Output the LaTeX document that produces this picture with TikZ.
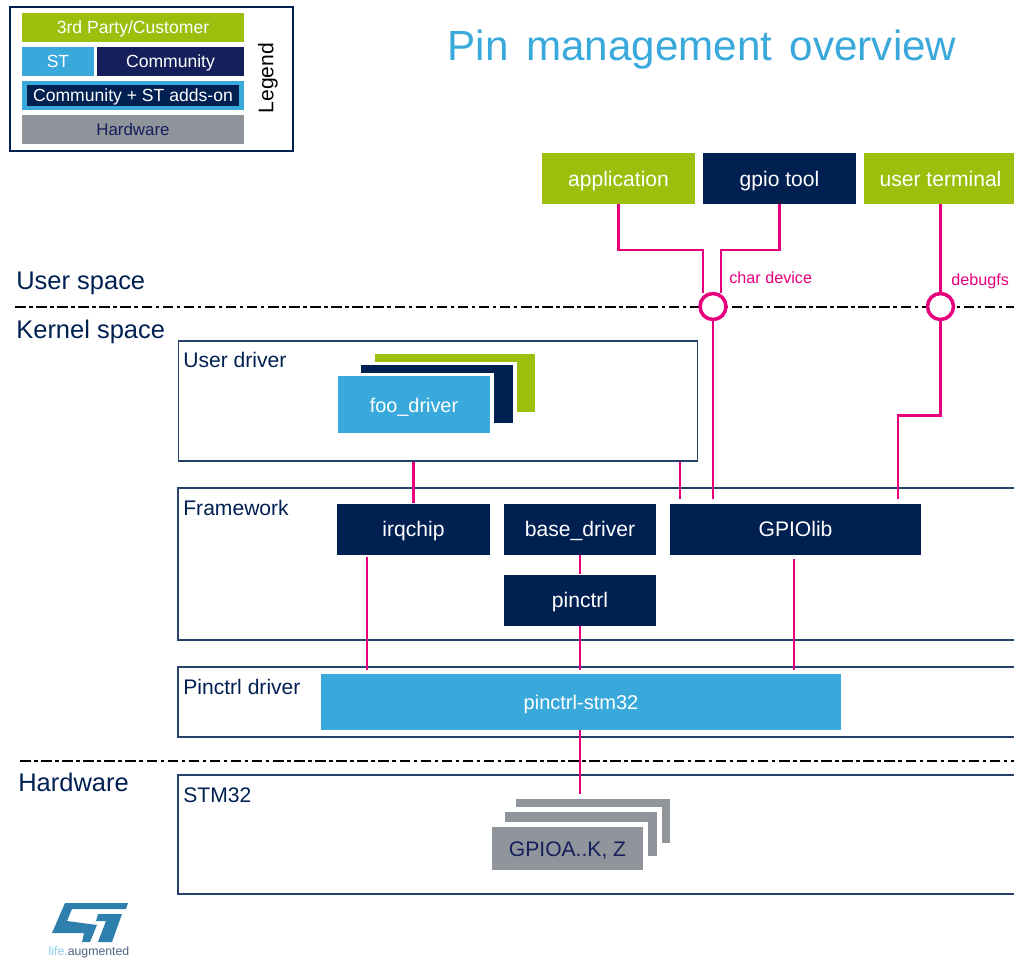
\documentclass[tikz,border=0pt]{standalone}
\usepackage{fontspec}
\setmainfont{Liberation Sans}
\definecolor{stgreen}{HTML}{9BBF0C}
\definecolor{stblue}{HTML}{39A9DC}
\definecolor{stnavy}{HTML}{002052}
\definecolor{stindigo}{HTML}{141F5C}
\definecolor{stgrey}{HTML}{8F959B}
\definecolor{stpink}{HTML}{E6007E}
\definecolor{stlogo}{HTML}{2F7FAE}
\tikzset{
  px/.style={x=0.02cm,y=-0.02cm},
  block/.style={anchor=center,inner sep=0pt,text height=8.6pt,text depth=0pt,font=\fontsize{12}{14}\selectfont,text=white},
  legendblock/.style={block,text height=7pt,font=\fontsize{10}{12}\selectfont},
  link/.style={stpink,line width=1.6pt},
  layer/.style={draw=stnavy!85,line width=0.6pt},
  layertext/.style={anchor=west,inner sep=0pt,text height=8.6pt,text depth=0pt,text=stnavy,font=\fontsize{12}{14}\selectfont},
  spacetext/.style={anchor=west,inner sep=0pt,text height=10pt,text depth=0pt,text=stnavy,font=\fontsize{14.5}{16}\selectfont},
  mount/.style={circle,draw=stpink,fill=white,line width=2pt,minimum size=0.52cm,inner sep=0pt},
  mounttext/.style={anchor=west,inner sep=0pt,text height=6.6pt,text depth=0pt,text=stpink,font=\fontsize{9.2}{11}\selectfont},
  splitline/.style={dash pattern=on 6pt off 2pt on 2pt off 2pt,line width=0.6pt}
}
\begin{document}
\begin{tikzpicture}[px]
\useasboundingbox (0,0) rectangle (1014,957);
\clip (0,0) rectangle (1014,957);

%legend
\draw[stnavy,line width=1.5pt,fill=white] (10,7) rectangle (293,151);
\node[legendblock,fill=stgreen,minimum width=4.44cm,minimum height=0.58cm] (legend3rd) at (133,27.5) {3rd Party/Customer};
\node[legendblock,fill=stblue,minimum width=1.44cm,minimum height=0.58cm] (legendst) at (58,61.5) {ST};
\node[legendblock,fill=stindigo,minimum width=2.94cm,minimum height=0.58cm] (legendcomm) at (170.5,61.5) {Community};
\node[legendblock,fill=stnavy,draw=stblue,line width=2.6pt,minimum width=4.34cm,minimum height=0.5cm] (legendadd) at (133,95.5) {Community + ST adds-on};
\node[legendblock,fill=stgrey,text=stindigo,font=\fontsize{9.6}{11}\selectfont,minimum width=4.44cm,minimum height=0.58cm] (legendhw) at (133,129) {Hardware};
\node[rotate=90,inner sep=0pt,font=\fontsize{12}{14}\selectfont] (legendname) at (268,78) {Legend};

\node[inner sep=0pt,text height=17pt,text depth=0pt,text=stblue,font=\fontsize{24}{28}\selectfont] (title) at (702,46) {\spaceskip=.42em Pin management overview};

%layers
\draw[layer] (1020,488) -- (178,488) -- (178,640) -- (1020,640);
\draw[layer] (1020,667) -- (178,667) -- (178,737) -- (1020,737);
\draw[layer] (1020,775) -- (178,775) -- (178,894) -- (1020,894);
\node[layer,minimum width=10.4cm,minimum height=2.4cm,inner sep=0pt] (userdrv) at (438,401) {};
\node[layertext] (userdrvname) at (183,360) {User driver};
\node[layertext] (fwname) at (183,508) {Framework};
\node[layertext] (pinname) at (183,687) {Pinctrl driver};
\node[layertext] (stmname) at (183,795) {STM32};

\draw[splitline] (15,307) -- (1014,307);
\draw[splitline] (20,761) -- (1014,761);
\node[spacetext] (userspace) at (16,281) {User space};
\node[spacetext] (kernelspace) at (16,330) {Kernel space};
\node[spacetext] (hwspace) at (18,783) {Hardware};

%top blocks
\node[block,fill=stgreen,minimum width=3.06cm,minimum height=1.02cm] (app) at (618.5,178.5) {application};
\node[block,fill=stnavy,minimum width=3.06cm,minimum height=1.02cm] (gpiotool) at (779.5,178.5) {gpio tool};
\node[block,fill=stgreen,minimum width=3.06cm,minimum height=1.02cm] (term) at (940.5,178.5) {user terminal};
\node[mount] (chardev) at (713,306.5) {};
\node[mount] (debugfs) at (940.5,306.5) {};
\node[mounttext] (chardevname) at (729,278) {char device};
\node[mounttext] (debugfsname) at (951,280) {debugfs};

%foo driver stack
\fill[stgreen] (375,354) rectangle (535,412);
\fill[white] (357,362) rectangle (517,427);
\fill[stnavy] (361,365) rectangle (513,423);
\fill[white] (334,373) rectangle (494,437);
\node[block,fill=stblue,font=\fontsize{11.3}{13}\selectfont,minimum width=3.04cm,minimum height=1.14cm] (foo) at (414,404.5) {foo\_driver};

%framework blocks
\node[block,fill=stnavy,minimum width=3.06cm,minimum height=1.02cm] (irq) at (413.5,529) {irqchip};
\node[block,fill=stnavy,minimum width=3.06cm,minimum height=1.02cm] (base) at (580,529) {base\_driver};
\node[block,fill=stnavy,minimum width=5.02cm,minimum height=1.02cm] (gpiolib) at (795.5,529) {GPIOlib};
\node[block,fill=stnavy,minimum width=3.06cm,minimum height=1.02cm] (pinctrl) at (580,600) {pinctrl};
\node[block,fill=stblue,font=\fontsize{11.4}{13}\selectfont,minimum width=10.42cm,minimum height=1.12cm] (stm) at (581,702) {pinctrl-stm32};

%gpio stack
\fill[stgrey] (516,799) rectangle (670,843);
\fill[white] (501,807) rectangle (662,860);
\fill[stgrey] (505,812) rectangle (657,856);
\fill[white] (488,822) rectangle (648,875);
\node[block,fill=stgrey,text=stindigo,minimum width=3.02cm,minimum height=0.86cm] (gpioa) at (567.5,848.5) {GPIOA..K, Z};

%link ends
\coordinate (appdown) at (703,293);
\coordinate (tooldown) at (721,293);
\coordinate (chartap) at (713,499);
\coordinate (debugtap) at (898,499);
\coordinate (usertap) at (680,499);
\coordinate (irqlow) at (367,557);
\coordinate (irqpin) at (367,670);
\coordinate (pinlow) at (580,670);
\coordinate (gpiolow) at (794,559);
\coordinate (gpiopin) at (794,670);
\coordinate (stmlow) at (580,730);
\coordinate (chiptop) at (580,794);

%links
\draw[link] (app.south) |- (appdown |- 0,250) -- (appdown);
\draw[link] (gpiotool.south) |- (tooldown |- 0,250) -- (tooldown);
\draw[link] (term.south) -- (debugfs.north);
\draw[link] (chardev.south) -- (chartap);
\draw[link] (debugfs.south) -- ++(0,94) -| (debugtap);
\draw[link] (userdrv.south -| irq) -- (irq.north);
\draw[link] (userdrv.south -| usertap) -- (usertap);
\draw[link] (irqlow) -- (irqpin);
\draw[link] (base.south) -- (pinctrl.north);
\draw[link] (pinctrl.south) -- (pinlow);
\draw[link] (gpiolow) -- (gpiopin);
\draw[link] (stmlow) -- (chiptop);

%logo
\fill[stlogo] (65,903) -- (128,903) -- (126,909) -- (72,909) -- (67,921) -- (97,925) -- (90,942) -- (82,942) -- (84,933) -- (52,933) -- cycle;
\fill[stlogo] (98,914) -- (122,914) -- (112,942) -- (98,942) -- (106,921) -- (96,921) -- cycle;
\node[inner sep=0pt,font=\fontsize{7}{8}\selectfont,text=stnavy!70] (logotext) at (89,952) {\textcolor{stblue!60}{life.}augmented};
\end{tikzpicture}
\end{document}
